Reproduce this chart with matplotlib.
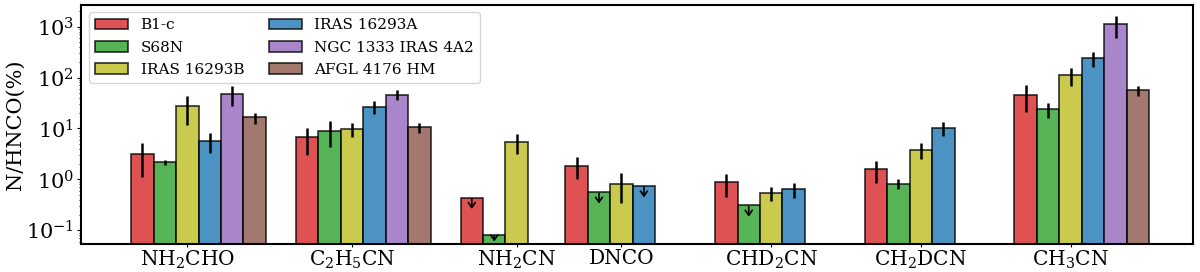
import numpy as np
import matplotlib
matplotlib.use('Agg')
import matplotlib.pyplot as plt

plt.rcParams['font.family'] = 'DejaVu Serif'
plt.rcParams['mathtext.fontset'] = 'dejavuserif'

molecules = ['NH$_2$CHO', 'C$_2$H$_5$CN', 'NH$_2$CN', 'DNCO',
             'CHD$_2$CN', 'CH$_2$DCN', 'CH$_3$CN']
sources = ['B1-c', 'S68N', 'IRAS 16293B', 'IRAS 16293A',
           'NGC 1333 IRAS 4A2', 'AFGL 4176 HM']

# ratios N/HNCO (%) per source, one entry per molecule (nan = no bar)
nan = np.nan
b1c = [3.1, 6.7, 0.44, 1.85, 0.87, 1.59, 46]
s68n = [2.2, 9.1, 0.082, 0.56, 0.31, 0.83, 24]
i16293b = [27.5, 9.9, 5.5, 0.83, 0.54, 3.8, 110]
i16293a = [5.7, 27, nan, 0.74, 0.64, 10.4, 240]
ngc1333 = [48, 46, nan, nan, nan, nan, 1100]
afgl4176 = [16.5, 10.5, nan, nan, nan, nan, 56]

b1c_err = [2.0, 3.7, 0, 0.85, 0.41, 0.73, 25]
s68n_err = [0.25, 4.7, 0, 0, 0, 0.17, 8]
i16293b_err = [16, 3, 2.4, 0.48, 0.17, 1.3, 43]
i16293a_err = [2.4, 8, 0, 0, 0.2, 3.2, 76]
ngc1333_err = [20, 10, 0, 0, 0, 0, 490]
afgl4176_err = [4, 2.5, 0, 0, 0, 0, 12]

# upper limits (arrow instead of error bar)
b1c_lim = [0, 0, 1, 0, 0, 0, 0]
s68n_lim = [0, 0, 1, 1, 1, 0, 0]
i16293b_lim = [0, 0, 0, 0, 0, 0, 0]
i16293a_lim = [0, 0, 0, 1, 0, 0, 0]
ngc1333_lim = [0, 0, 0, 0, 0, 0, 0]
afgl4176_lim = [0, 0, 0, 0, 0, 0, 0]

values = [b1c, s68n, i16293b, i16293a, ngc1333, afgl4176]
errors = [b1c_err, s68n_err, i16293b_err, i16293a_err, ngc1333_err, afgl4176_err]
limits = [b1c_lim, s68n_lim, i16293b_lim, i16293a_lim, ngc1333_lim, afgl4176_lim]
colors = ['tab:red', 'tab:green', 'tab:olive', 'tab:blue', 'tab:purple', 'tab:brown']

xpos = np.array([0, 1.1, 2.2, 2.9, 3.9, 4.9, 5.9])
w = 0.15
ymin, ymax = 0.054, 2700

fig = plt.figure(figsize=(12, 2.72), dpi=100)
ax = fig.add_axes([0.0675, 0.103, 0.927, 0.88])

for j in range(len(sources)):
    v = np.array(values[j], dtype=float)
    e = np.array(errors[j], dtype=float)
    lim = np.array(limits[j], dtype=bool)
    x = xpos + (j - 2) * w
    ax.bar(x, v, w, color=colors[j], alpha=0.8, edgecolor='k', linewidth=1.2,
           label=sources[j])
    ok = ~np.isnan(v) & (e > 0) & ~lim
    ax.errorbar(x[ok], v[ok], yerr=e[ok], fmt='none', ecolor='k', elinewidth=1.8)
    for xi, vi in zip(x[lim], v[lim]):
        tip = max(vi * 0.6, ymin * 1.12)
        ax.annotate('', xy=(xi, tip), xytext=(xi, vi * 0.95), annotation_clip=False,
                    arrowprops=dict(arrowstyle='->,head_width=0.25,head_length=0.35',
                                    color='k', lw=1.2, shrinkA=0, shrinkB=0))

ax.set_yscale('log')
ax.set_ylim(ymin, ymax)
ax.set_xlim(-0.71, 6.72)
ax.set_xticks(xpos)
ax.set_xticklabels(molecules, fontsize=14.5)
ax.tick_params(axis='x', length=2.5, pad=1)
ax.tick_params(axis='y', labelsize=15, length=3, pad=2)
ax.tick_params(axis='y', which='minor', length=1.5)
ax.set_ylabel('N/HNCO(%)', fontsize=15, labelpad=1)
for s in ax.spines.values():
    s.set_linewidth(1.5)
ax.legend(loc='upper left', ncol=2, fontsize=11, columnspacing=1.6,
          labelspacing=0.55, handlelength=2.2, borderaxespad=0.5)

fig.savefig('out.png', dpi=100)
